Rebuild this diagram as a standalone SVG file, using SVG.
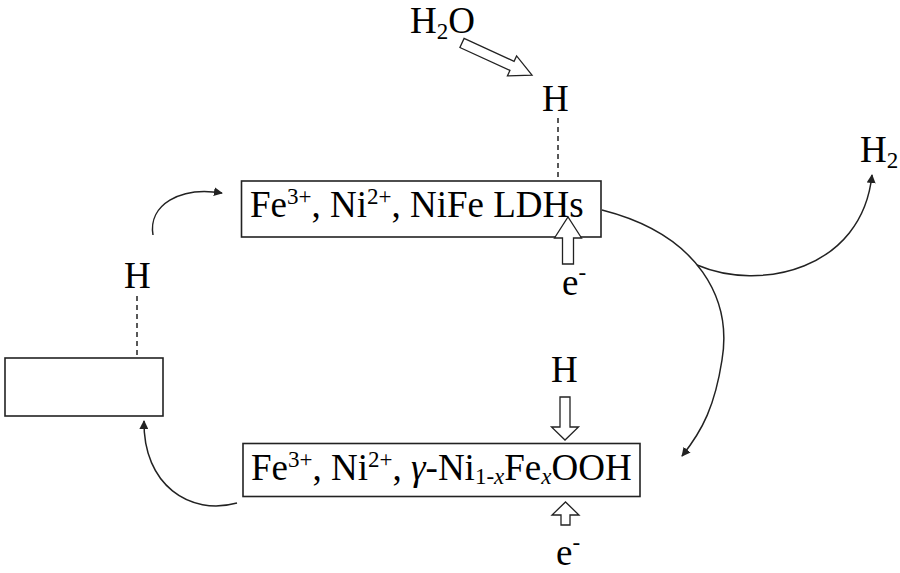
<svg xmlns="http://www.w3.org/2000/svg" width="900" height="573" viewBox="0 0 900 573">
<defs>
<style>
text{font-family:"Liberation Serif","Times New Roman",serif;fill:#000;}
.t{font-size:37px;}
.sup{font-size:23px;}
.box{fill:#fff;stroke:#222;stroke-width:1.6;}
.c{fill:none;stroke:#222;stroke-width:1.5;}
.dash{fill:none;stroke:#222;stroke-width:1.5;stroke-dasharray:5,4;}
.hol{fill:#fff;stroke:#222;stroke-width:1.3;stroke-linejoin:miter;}
</style>
<marker id="ah" viewBox="0 0 10 10" refX="9" refY="5" markerWidth="9" markerHeight="9" markerUnits="userSpaceOnUse" orient="auto">
<path d="M0,0 L10,5 L0,10 z" fill="#222"/>
</marker>
</defs>
<rect width="900" height="573" fill="#fff"/>
<g id="connectors">
<path class="c" d="M153,235 C148,205 180,186 222,193" marker-end="url(#ah)"/>
<path class="c" d="M237,503 C190,516 143,485 144,421" marker-end="url(#ah)"/>
<path class="c" d="M602,210 C700,235 732,300 722,360 C715,405 703,430 682,456" marker-end="url(#ah)"/>
<path class="c" d="M697,265 C760,292 862,270 872,175" marker-end="url(#ah)"/>
<line class="dash" x1="558" y1="118" x2="558" y2="181"/>
<line class="dash" x1="137" y1="296" x2="137" y2="358"/>
</g>
<g id="node-ldh">
<rect class="box" x="241.5" y="181" width="359.5" height="56"/>
<text class="t" x="250" y="217">Fe<tspan class="sup" dy="-13">3+</tspan><tspan dy="13">, Ni</tspan><tspan class="sup" dy="-13">2+</tspan><tspan dy="13">, NiFe LDHs</tspan></text>
</g>
<g id="node-oxyhydroxide">
<rect class="box" x="243" y="443.5" width="397" height="53"/>
<text class="t" x="251" y="480">Fe<tspan class="sup" dy="-13">3+</tspan><tspan dy="13">, Ni</tspan><tspan class="sup" dy="-13">2+</tspan><tspan dy="13">, </tspan><tspan font-style="italic">γ</tspan><tspan>-Ni</tspan><tspan class="sup" dy="4">1-</tspan><tspan class="sup" font-style="italic">x</tspan><tspan dy="-4">Fe</tspan><tspan class="sup" font-style="italic" dy="4">x</tspan><tspan dy="-4">OOH</tspan></text>
</g>
<g id="node-left">
<rect class="box" x="5" y="358" width="158" height="58"/>
</g>
<g id="label-h2o">
<text class="t" x="410" y="33">H<tspan class="sup" dy="6">2</tspan><tspan dy="-6">O</tspan></text>
</g>
<g id="arrow-h2o">
<path class="hol" transform="translate(462,43) rotate(24.6)" d="M0,-5 L55,-5 L55,-11 L77,0 L55,11 L55,5 L0,5 z"/>
</g>
<g id="label-h-top">
<text class="t" x="542" y="111">H</text>
</g>
<g id="label-h-left">
<text class="t" x="124" y="288">H</text>
</g>
<g id="label-h2">
<text class="t" x="860" y="162">H<tspan class="sup" dy="6">2</tspan></text>
</g>
<g id="arrow-e-top">
<path class="hol" d="M562.5,264 L573.5,264 L573.5,238 L581.5,238 L568,217 L554.5,238 L562.5,238 z"/>
<text class="t" x="562" y="295">e<tspan class="sup" dy="-15">-</tspan></text>
</g>
<g id="arrow-h-bottom">
<text class="t" x="551" y="382">H</text>
<path class="hol" d="M560,397 L570,397 L570,427 L578.5,427 L565,440 L551.5,427 L560,427 z"/>
</g>
<g id="arrow-e-bottom">
<path class="hol" d="M561,525 L570,525 L570,515 L579,515 L565.5,502 L552,515 L561,515 z"/>
<text class="t" x="556" y="565">e<tspan class="sup" dy="-15">-</tspan></text>
</g>
</svg>
